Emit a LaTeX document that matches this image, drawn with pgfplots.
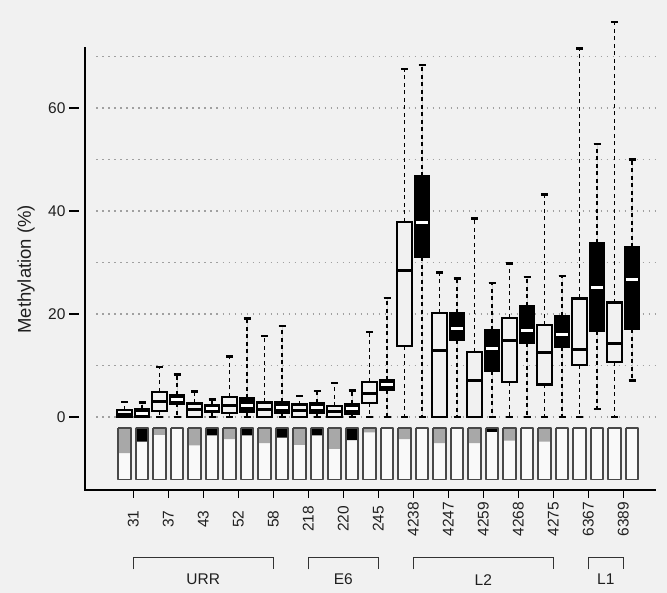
\documentclass[border=0pt]{standalone}
\usepackage{pgfplots}
\pgfplotsset{compat=1.18}
\usepgfplotslibrary{statistics}
\usepackage{fontspec}
\setmainfont{Liberation Sans}
\definecolor{bg}{HTML}{F1F1F1}
\definecolor{gridc}{HTML}{A0A0A0}
\definecolor{segray}{HTML}{A8A8A8}
\definecolor{rectedge}{HTML}{484848}
\definecolor{rectfill}{HTML}{F9F9F9}
\tikzset{
  wline/.style={draw=black, line width=1.8pt, dash pattern=on 4pt off 3.5pt},
  wcap/.style={draw=black, line width=2.4pt, solid},
}
\pgfplotsset{
  boxplot/draw/lower whisker/.code={%
    \draw[wline] (boxplot cs:\pgfplotsboxplotvalue{lower quartile}) -- (boxplot cs:\pgfplotsboxplotvalue{lower whisker});
    \draw[wcap] (boxplot whisker cs:\pgfplotsboxplotvalue{lower whisker},0) -- (boxplot whisker cs:\pgfplotsboxplotvalue{lower whisker},1);},
  boxplot/draw/upper whisker/.code={%
    \draw[wline] (boxplot cs:\pgfplotsboxplotvalue{upper quartile}) -- (boxplot cs:\pgfplotsboxplotvalue{upper whisker});
    \draw[wcap] (boxplot whisker cs:\pgfplotsboxplotvalue{upper whisker},0) -- (boxplot whisker cs:\pgfplotsboxplotvalue{upper whisker},1);},
  boxplot/draw/median/.code={%
    \draw[/pgfplots/boxplot/every median/.try] (boxplot box cs:\pgfplotsboxplotvalue{median},0.08) -- (boxplot box cs:\pgfplotsboxplotvalue{median},0.92);},
  wb/.style={fill=bg, draw=black, line width=2.2pt, boxplot/every median/.style={draw=black, line width=3pt}},
  bb/.style={fill=black, draw=black, line width=2.2pt, boxplot/every median/.style={draw=white, line width=3pt}},
}
\begin{document}
\begin{tikzpicture}[x=1pt,y=1pt]
\path[use as bounding box, fill=bg] (0,0) rectangle (667,-593);
\begin{axis}[
  at={(85pt,-490pt)}, anchor=south west,
  width=570pt, height=480pt, scale only axis,
  xmin=-2.257, xmax=30.31, ymin=-14.2, ymax=79,
  clip=false,
  axis line style={draw=none},
  xtick pos=bottom, ytick pos=left,
  xtick={0.5,2.5,...,28.5},
  xticklabels={31,37,43,52,58,218,220,245,4238,4247,4259,4268,4275,6367,6389},
  ytick={0,20,40,60},
  major tick length=0pt,
  /pgf/number format/assume math mode=true,
  tick label style={font=\fontsize{15.5}{18}\selectfont, text=black!88},
  xticklabel style={yshift=-29pt, rotate=90, anchor=center},
  yticklabel style={xshift=-16pt},
  ylabel={Methylation (\%)},
  ylabel style={at={(axis description cs:-0.1035,0.46)}, anchor=center, font=\fontsize{18.5}{21}\selectfont, text=black!88},
  boxplot/draw direction=y,
  boxplot/box extend=0.83,
  boxplot/whisker extend=0.4,
]
% dotted grid
\pgfplotsinvokeforeach{0,10,20,30,40,50,60,70}{\draw[gridc, line width=1.3pt, dash pattern=on 1.3pt off 4.7pt] (axis cs:-1.6,#1) -- (axis cs:30.31,#1);}

% boxplots (white = even positions, black = odd positions)
\addplot[wb, boxplot prepared={draw position=0, lower whisker=0, lower quartile=0, median=0.4, upper quartile=1.3, upper whisker=2.9}] coordinates {};
\addplot[bb, boxplot prepared={draw position=1, lower whisker=0, lower quartile=0, median=0.6, upper quartile=1.6, upper whisker=2.8}] coordinates {};
\addplot[wb, boxplot prepared={draw position=2, lower whisker=0, lower quartile=1.1, median=2.9, upper quartile=4.9, upper whisker=9.7}] coordinates {};
\addplot[bb, boxplot prepared={draw position=3, lower whisker=0, lower quartile=2.6, median=3.4, upper quartile=4.3, upper whisker=8.2}] coordinates {};
\addplot[wb, boxplot prepared={draw position=4, lower whisker=0, lower quartile=0, median=1.5, upper quartile=2.6, upper whisker=4.9}] coordinates {};
\addplot[bb, boxplot prepared={draw position=5, lower whisker=0, lower quartile=1.0, median=1.6, upper quartile=2.3, upper whisker=3.4}] coordinates {};
\addplot[wb, boxplot prepared={draw position=6, lower whisker=0, lower quartile=0.8, median=2.3, upper quartile=3.9, upper whisker=11.7}] coordinates {};
\addplot[bb, boxplot prepared={draw position=7, lower whisker=0, lower quartile=1.0, median=2.3, upper quartile=3.6, upper whisker=19.1}] coordinates {};
\addplot[wb, boxplot prepared={draw position=8, lower whisker=0, lower quartile=0, median=1.4, upper quartile=2.8, upper whisker=15.7}] coordinates {};
\addplot[bb, boxplot prepared={draw position=9, lower whisker=0, lower quartile=0.7, median=1.8, upper quartile=2.9, upper whisker=17.6}] coordinates {};
\addplot[wb, boxplot prepared={draw position=10, lower whisker=0, lower quartile=0, median=1.3, upper quartile=2.4, upper whisker=4.1}] coordinates {};
\addplot[bb, boxplot prepared={draw position=11, lower whisker=0, lower quartile=0.7, median=1.8, upper quartile=2.7, upper whisker=5.0}] coordinates {};
\addplot[wb, boxplot prepared={draw position=12, lower whisker=0, lower quartile=0, median=1.0, upper quartile=2.1, upper whisker=6.6}] coordinates {};
\addplot[bb, boxplot prepared={draw position=13, lower whisker=0, lower quartile=0.5, median=1.6, upper quartile=2.5, upper whisker=5.1}] coordinates {};
\addplot[wb, boxplot prepared={draw position=14, lower whisker=0, lower quartile=2.7, median=4.5, upper quartile=6.8, upper whisker=16.5}] coordinates {};
\addplot[bb, boxplot prepared={draw position=15, lower whisker=0, lower quartile=5.2, median=6.2, upper quartile=7.1, upper whisker=23.1}] coordinates {};
\addplot[wb, boxplot prepared={draw position=16, lower whisker=0, lower quartile=13.7, median=28.4, upper quartile=37.9, upper whisker=67.6}] coordinates {};
\addplot[bb, boxplot prepared={draw position=17, lower whisker=0, lower quartile=31.0, median=37.7, upper quartile=46.7, upper whisker=68.3}] coordinates {};
\addplot[wb, boxplot prepared={draw position=18, lower whisker=0, lower quartile=0, median=12.8, upper quartile=20.1, upper whisker=28.0}] coordinates {};
\addplot[bb, boxplot prepared={draw position=19, lower whisker=0, lower quartile=14.9, median=17.2, upper quartile=20.1, upper whisker=26.9}] coordinates {};
\addplot[wb, boxplot prepared={draw position=20, lower whisker=0, lower quartile=0, median=7.0, upper quartile=12.6, upper whisker=38.5}] coordinates {};
\addplot[bb, boxplot prepared={draw position=21, lower whisker=0, lower quartile=8.9, median=13.3, upper quartile=16.8, upper whisker=26.0}] coordinates {};
\addplot[wb, boxplot prepared={draw position=22, lower whisker=0, lower quartile=6.7, median=14.8, upper quartile=19.2, upper whisker=29.8}] coordinates {};
\addplot[bb, boxplot prepared={draw position=23, lower whisker=0, lower quartile=14.3, median=16.7, upper quartile=21.6, upper whisker=27.2}] coordinates {};
\addplot[wb, boxplot prepared={draw position=24, lower whisker=0, lower quartile=6.3, median=12.5, upper quartile=17.8, upper whisker=43.2}] coordinates {};
\addplot[bb, boxplot prepared={draw position=25, lower whisker=0, lower quartile=13.6, median=15.9, upper quartile=19.6, upper whisker=27.4}] coordinates {};
\addplot[wb, boxplot prepared={draw position=26, lower whisker=0, lower quartile=10.0, median=13.1, upper quartile=23.0, upper whisker=71.5}] coordinates {};
\addplot[bb, boxplot prepared={draw position=27, lower whisker=1.5, lower quartile=16.6, median=25.1, upper quartile=33.8, upper whisker=53.0}] coordinates {};
\addplot[wb, boxplot prepared={draw position=28, lower whisker=0, lower quartile=10.6, median=14.2, upper quartile=22.2, upper whisker=76.7}] coordinates {};
\addplot[bb, boxplot prepared={draw position=29, lower whisker=7.1, lower quartile=17.0, median=26.7, upper quartile=32.9, upper whisker=50.0}] coordinates {};

% pattern strip below the boxplots: white fill
\addplot[fill=rectfill, draw=none, unbounded coords=jump] coordinates {
(-0.36,-2.1) (0.36,-2.1) (0.36,-12.15) (-0.36,-12.15) (0,nan)
(0.64,-2.1) (1.36,-2.1) (1.36,-12.15) (0.64,-12.15) (1,nan)
(1.64,-2.1) (2.36,-2.1) (2.36,-12.15) (1.64,-12.15) (2,nan)
(2.64,-2.1) (3.36,-2.1) (3.36,-12.15) (2.64,-12.15) (3,nan)
(3.64,-2.1) (4.36,-2.1) (4.36,-12.15) (3.64,-12.15) (4,nan)
(4.64,-2.1) (5.36,-2.1) (5.36,-12.15) (4.64,-12.15) (5,nan)
(5.64,-2.1) (6.36,-2.1) (6.36,-12.15) (5.64,-12.15) (6,nan)
(6.64,-2.1) (7.36,-2.1) (7.36,-12.15) (6.64,-12.15) (7,nan)
(7.64,-2.1) (8.36,-2.1) (8.36,-12.15) (7.64,-12.15) (8,nan)
(8.64,-2.1) (9.36,-2.1) (9.36,-12.15) (8.64,-12.15) (9,nan)
(9.64,-2.1) (10.36,-2.1) (10.36,-12.15) (9.64,-12.15) (10,nan)
(10.64,-2.1) (11.36,-2.1) (11.36,-12.15) (10.64,-12.15) (11,nan)
(11.64,-2.1) (12.36,-2.1) (12.36,-12.15) (11.64,-12.15) (12,nan)
(12.64,-2.1) (13.36,-2.1) (13.36,-12.15) (12.64,-12.15) (13,nan)
(13.64,-2.1) (14.36,-2.1) (14.36,-12.15) (13.64,-12.15) (14,nan)
(14.64,-2.1) (15.36,-2.1) (15.36,-12.15) (14.64,-12.15) (15,nan)
(15.64,-2.1) (16.36,-2.1) (16.36,-12.15) (15.64,-12.15) (16,nan)
(16.64,-2.1) (17.36,-2.1) (17.36,-12.15) (16.64,-12.15) (17,nan)
(17.64,-2.1) (18.36,-2.1) (18.36,-12.15) (17.64,-12.15) (18,nan)
(18.64,-2.1) (19.36,-2.1) (19.36,-12.15) (18.64,-12.15) (19,nan)
(19.64,-2.1) (20.36,-2.1) (20.36,-12.15) (19.64,-12.15) (20,nan)
(20.64,-2.1) (21.36,-2.1) (21.36,-12.15) (20.64,-12.15) (21,nan)
(21.64,-2.1) (22.36,-2.1) (22.36,-12.15) (21.64,-12.15) (22,nan)
(22.64,-2.1) (23.36,-2.1) (23.36,-12.15) (22.64,-12.15) (23,nan)
(23.64,-2.1) (24.36,-2.1) (24.36,-12.15) (23.64,-12.15) (24,nan)
(24.64,-2.1) (25.36,-2.1) (25.36,-12.15) (24.64,-12.15) (25,nan)
(25.64,-2.1) (26.36,-2.1) (26.36,-12.15) (25.64,-12.15) (26,nan)
(26.64,-2.1) (27.36,-2.1) (27.36,-12.15) (26.64,-12.15) (27,nan)
(27.64,-2.1) (28.36,-2.1) (28.36,-12.15) (27.64,-12.15) (28,nan)
(28.64,-2.1) (29.36,-2.1) (29.36,-12.15) (28.64,-12.15)
};
% gray parts
\addplot[fill=segray, draw=none, unbounded coords=jump] coordinates {
(-0.36,-2.1) (0.36,-2.1) (0.36,-7.02) (-0.36,-7.02) (0,nan)
(1.64,-2.1) (2.36,-2.1) (2.36,-3.51) (1.64,-3.51) (2,nan)
(3.64,-2.1) (4.36,-2.1) (4.36,-5.52) (3.64,-5.52) (4,nan)
(5.64,-2.1) (6.36,-2.1) (6.36,-4.31) (5.64,-4.31) (6,nan)
(7.64,-2.1) (8.36,-2.1) (8.36,-5.12) (7.64,-5.12) (8,nan)
(9.64,-2.1) (10.36,-2.1) (10.36,-5.42) (9.64,-5.42) (10,nan)
(11.64,-2.1) (12.36,-2.1) (12.36,-6.22) (11.64,-6.22) (12,nan)
(13.64,-2.1) (14.36,-2.1) (14.36,-3.0) (13.64,-3.0) (14,nan)
(15.64,-2.1) (16.36,-2.1) (16.36,-4.31) (15.64,-4.31) (16,nan)
(17.64,-2.1) (18.36,-2.1) (18.36,-5.12) (17.64,-5.12) (18,nan)
(19.64,-2.1) (20.36,-2.1) (20.36,-5.12) (19.64,-5.12) (20,nan)
(21.64,-2.1) (22.36,-2.1) (22.36,-4.61) (21.64,-4.61) (22,nan)
(23.64,-2.1) (24.36,-2.1) (24.36,-4.81) (23.64,-4.81)
};
% black parts
\addplot[fill=black, draw=none, unbounded coords=jump] coordinates {
(0.64,-2.1) (1.36,-2.1) (1.36,-4.81) (0.64,-4.81) (1,nan)
(4.64,-2.1) (5.36,-2.1) (5.36,-3.61) (4.64,-3.61) (5,nan)
(6.64,-2.1) (7.36,-2.1) (7.36,-3.61) (6.64,-3.61) (7,nan)
(8.64,-2.1) (9.36,-2.1) (9.36,-4.01) (8.64,-4.01) (9,nan)
(10.64,-2.1) (11.36,-2.1) (11.36,-3.61) (10.64,-3.61) (11,nan)
(12.64,-2.1) (13.36,-2.1) (13.36,-4.51) (12.64,-4.51) (13,nan)
(20.64,-2.1) (21.36,-2.1) (21.36,-2.9) (20.64,-2.9)
};
% outlines
\addplot[draw=rectedge, line width=1.8pt, line join=round, unbounded coords=jump] coordinates {
(-0.36,-2.1) (0.36,-2.1) (0.36,-12.15) (-0.36,-12.15) (-0.36,-2.1) (0,nan)
(0.64,-2.1) (1.36,-2.1) (1.36,-12.15) (0.64,-12.15) (0.64,-2.1) (1,nan)
(1.64,-2.1) (2.36,-2.1) (2.36,-12.15) (1.64,-12.15) (1.64,-2.1) (2,nan)
(2.64,-2.1) (3.36,-2.1) (3.36,-12.15) (2.64,-12.15) (2.64,-2.1) (3,nan)
(3.64,-2.1) (4.36,-2.1) (4.36,-12.15) (3.64,-12.15) (3.64,-2.1) (4,nan)
(4.64,-2.1) (5.36,-2.1) (5.36,-12.15) (4.64,-12.15) (4.64,-2.1) (5,nan)
(5.64,-2.1) (6.36,-2.1) (6.36,-12.15) (5.64,-12.15) (5.64,-2.1) (6,nan)
(6.64,-2.1) (7.36,-2.1) (7.36,-12.15) (6.64,-12.15) (6.64,-2.1) (7,nan)
(7.64,-2.1) (8.36,-2.1) (8.36,-12.15) (7.64,-12.15) (7.64,-2.1) (8,nan)
(8.64,-2.1) (9.36,-2.1) (9.36,-12.15) (8.64,-12.15) (8.64,-2.1) (9,nan)
(9.64,-2.1) (10.36,-2.1) (10.36,-12.15) (9.64,-12.15) (9.64,-2.1) (10,nan)
(10.64,-2.1) (11.36,-2.1) (11.36,-12.15) (10.64,-12.15) (10.64,-2.1) (11,nan)
(11.64,-2.1) (12.36,-2.1) (12.36,-12.15) (11.64,-12.15) (11.64,-2.1) (12,nan)
(12.64,-2.1) (13.36,-2.1) (13.36,-12.15) (12.64,-12.15) (12.64,-2.1) (13,nan)
(13.64,-2.1) (14.36,-2.1) (14.36,-12.15) (13.64,-12.15) (13.64,-2.1) (14,nan)
(14.64,-2.1) (15.36,-2.1) (15.36,-12.15) (14.64,-12.15) (14.64,-2.1) (15,nan)
(15.64,-2.1) (16.36,-2.1) (16.36,-12.15) (15.64,-12.15) (15.64,-2.1) (16,nan)
(16.64,-2.1) (17.36,-2.1) (17.36,-12.15) (16.64,-12.15) (16.64,-2.1) (17,nan)
(17.64,-2.1) (18.36,-2.1) (18.36,-12.15) (17.64,-12.15) (17.64,-2.1) (18,nan)
(18.64,-2.1) (19.36,-2.1) (19.36,-12.15) (18.64,-12.15) (18.64,-2.1) (19,nan)
(19.64,-2.1) (20.36,-2.1) (20.36,-12.15) (19.64,-12.15) (19.64,-2.1) (20,nan)
(20.64,-2.1) (21.36,-2.1) (21.36,-12.15) (20.64,-12.15) (20.64,-2.1) (21,nan)
(21.64,-2.1) (22.36,-2.1) (22.36,-12.15) (21.64,-12.15) (21.64,-2.1) (22,nan)
(22.64,-2.1) (23.36,-2.1) (23.36,-12.15) (22.64,-12.15) (22.64,-2.1) (23,nan)
(23.64,-2.1) (24.36,-2.1) (24.36,-12.15) (23.64,-12.15) (23.64,-2.1) (24,nan)
(24.64,-2.1) (25.36,-2.1) (25.36,-12.15) (24.64,-12.15) (24.64,-2.1) (25,nan)
(25.64,-2.1) (26.36,-2.1) (26.36,-12.15) (25.64,-12.15) (25.64,-2.1) (26,nan)
(26.64,-2.1) (27.36,-2.1) (27.36,-12.15) (26.64,-12.15) (26.64,-2.1) (27,nan)
(27.64,-2.1) (28.36,-2.1) (28.36,-12.15) (27.64,-12.15) (27.64,-2.1) (28,nan)
(28.64,-2.1) (29.36,-2.1) (29.36,-12.15) (28.64,-12.15) (28.64,-2.1)
};

% axis lines
\draw[line width=2.5pt, line cap=rect] (axis cs:-2.257,71.6) -- (axis cs:-2.257,-14.2) -- (axis cs:30.31,-14.2);
% tick marks (drawn as plain line segments)
\addplot[draw=black, line width=1.5pt, unbounded coords=jump] coordinates {
(-2.6,0) (-3.15,0) (0,nan) (-2.6,20) (-3.15,20) (0,nan) (-2.6,40) (-3.15,40) (0,nan) (-2.6,60) (-3.15,60)
};
\addplot[draw=black, line width=1.5pt, unbounded coords=jump] coordinates {
(0.5,-14.2) (0.5,-15.7) (0.5,nan) (2.5,-14.2) (2.5,-15.7) (2.5,nan) (4.5,-14.2) (4.5,-15.7) (4.5,nan)
(6.5,-14.2) (6.5,-15.7) (6.5,nan) (8.5,-14.2) (8.5,-15.7) (8.5,nan) (10.5,-14.2) (10.5,-15.7) (10.5,nan)
(12.5,-14.2) (12.5,-15.7) (12.5,nan) (14.5,-14.2) (14.5,-15.7) (14.5,nan) (16.5,-14.2) (16.5,-15.7) (16.5,nan)
(18.5,-14.2) (18.5,-15.7) (18.5,nan) (20.5,-14.2) (20.5,-15.7) (20.5,nan) (22.5,-14.2) (22.5,-15.7) (22.5,nan)
(24.5,-14.2) (24.5,-15.7) (24.5,nan) (26.5,-14.2) (26.5,-15.7) (26.5,nan) (28.5,-14.2) (28.5,-15.7)
};

% region brackets
\draw[line width=1.4pt, black!80] (axis cs:0.5,-29.6) -- (axis cs:0.5,-27.3) -- (axis cs:8.5,-27.3) -- (axis cs:8.5,-29.6);
\draw[line width=1.4pt, black!80] (axis cs:10.5,-29.6) -- (axis cs:10.5,-27.3) -- (axis cs:14.5,-27.3) -- (axis cs:14.5,-29.6);
\draw[line width=1.4pt, black!80] (axis cs:16.5,-29.6) -- (axis cs:16.5,-27.3) -- (axis cs:24.5,-27.3) -- (axis cs:24.5,-29.6);
\draw[line width=1.4pt, black!80] (axis cs:26.5,-29.6) -- (axis cs:26.5,-27.3) -- (axis cs:28.5,-27.3) -- (axis cs:28.5,-29.6);
\node[font=\fontsize{15.5}{18}\selectfont, text=black!88] at (axis cs:4.5,-31.6) {URR};
\node[font=\fontsize{15.5}{18}\selectfont, text=black!88] at (axis cs:12.5,-31.6) {E6};
\node[font=\fontsize{15.5}{18}\selectfont, text=black!88] at (axis cs:20.5,-31.6) {L2};
\node[font=\fontsize{15.5}{18}\selectfont, text=black!88] at (axis cs:27.5,-31.6) {L1};
\end{axis}
\end{tikzpicture}
\end{document}
